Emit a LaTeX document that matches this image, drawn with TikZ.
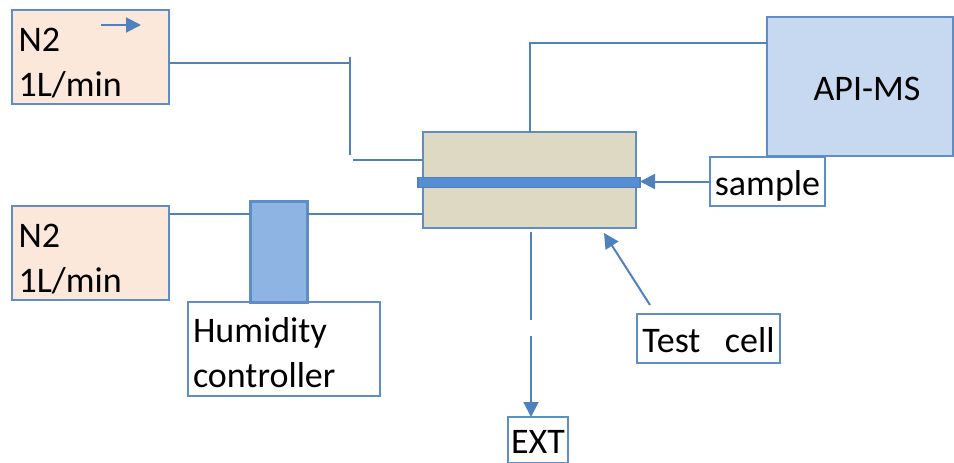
\documentclass[tikz,border=0pt]{standalone}
\usepackage{fontspec}
\setmainfont{Carlito}
\usepackage{tikz}
\usetikzlibrary{arrows.meta,calc}
\definecolor{edge}{HTML}{5F8DC6}
\definecolor{pipe}{HTML}{4F81BD}
\definecolor{peach}{HTML}{FCE8DA}
\definecolor{cellfill}{HTML}{DDD9C3}
\definecolor{msfill}{HTML}{C6D9F1}
\definecolor{humfill}{HTML}{8EB4E3}
\definecolor{barfill}{HTML}{558ED5}
\tikzset{
  box/.style={
    draw=edge, line width=0.9pt, inner sep=0pt, outer sep=0pt,
    font=\fontsize{18}{22.5}\selectfont
  },
  supply/.style={box, fill=peach, minimum width=78.5pt, minimum height=47pt,
    text width=72pt, align=left, inner xsep=3pt, text height=17.5pt},
  tag/.style={box, fill=white, text height=13.5pt, text depth=0pt},
  pipeline/.style={draw=pipe, line width=1pt},
  flowarrow/.style={pipeline, -{Triangle[length=7.5pt,width=7.5pt]}}
}
\begin{document}
\begin{tikzpicture}[x=0.5pt, y=-0.5pt]
  \useasboundingbox (0,0) rectangle (954,462);

  % gas supplies
  \node[supply] (n2top) at (90.5,57) {N2\\1L/min};
  \node[supply] (n2bot) at (90.5,253) {N2\\1L/min};

  % humidity controller
  \node[box, fill=white, minimum width=96pt, minimum height=47pt, text width=91pt,
        align=left, inner xsep=2.5pt, text height=16.5pt] (humlbl) at (284,349) {Humidity\\controller};
  \node[box, fill=humfill, line width=1.5pt, minimum width=28.5pt,
        minimum height=50.5pt] (humid) at (278.5,251.5) {};

  % test cell and API-MS
  \node[box, fill=cellfill, minimum width=106.5pt, minimum height=48pt] (cell) at (529.5,180) {};
  \node[box, fill=barfill, draw=pipe, line width=0.6pt, minimum width=111pt,
        minimum height=5pt] (bar) at (529,182.5) {};
  \node[tag, fill=msfill, minimum width=93pt, minimum height=69.5pt] (api) at (860,86.5) {\hspace*{7pt}API-MS};

  \node[tag, minimum width=57.5pt, minimum height=24.5pt] (sample) at (767.5,181.5) {sample};
  \node[tag, minimum width=71.5pt, minimum height=24.5pt] (testlbl) at (708.5,338.5) {Test\ \ \ cell};
  \node[tag, minimum width=30pt, minimum height=23pt] (ext) at (538,440) {EXT};

  \coordinate (teeA) at (350,63);
  \coordinate (teeTop) at (350,57);
  \coordinate (teeBot) at (350,155);
  \coordinate (inA) at (353,160);
  \coordinate (inB) at (300,214);
  \coordinate (msline) at (600,43);
  \coordinate (gapA) at (531,320);
  \coordinate (gapB) at (531,336);
  \coordinate (cellTail) at (650,305);
  \coordinate (cellTip) at (604,233);

  % dry line
  \draw[pipeline] (n2top.east |- teeA) -- (teeA);
  \draw[pipeline] (teeTop) -- (teeBot);
  \draw[pipeline] (inA) -- (cell.west |- inA);

  % humid line
  \draw[pipeline] (n2bot.east |- inB) -- (humid.west |- inB);
  \draw[pipeline] (humid.east |- inB) -- (cell.west |- inB);

  % to the mass spectrometer
  \draw[pipeline] (cell.north) |- (api.west |- msline);

  % exhaust
  \draw[pipeline] ([yshift=-2pt]cell.south -| gapA) -- (gapA);
  \draw[flowarrow] (gapB) -- (gapB |- ext.north);

  \draw[flowarrow] (sample.west) -- (bar.east |- sample.west);
  \draw[flowarrow] (cellTail) -- (cellTip);
  \draw[flowarrow] ($(n2top.north west)+(89,15)$) -- ++(40,0);
\end{tikzpicture}
\end{document}
